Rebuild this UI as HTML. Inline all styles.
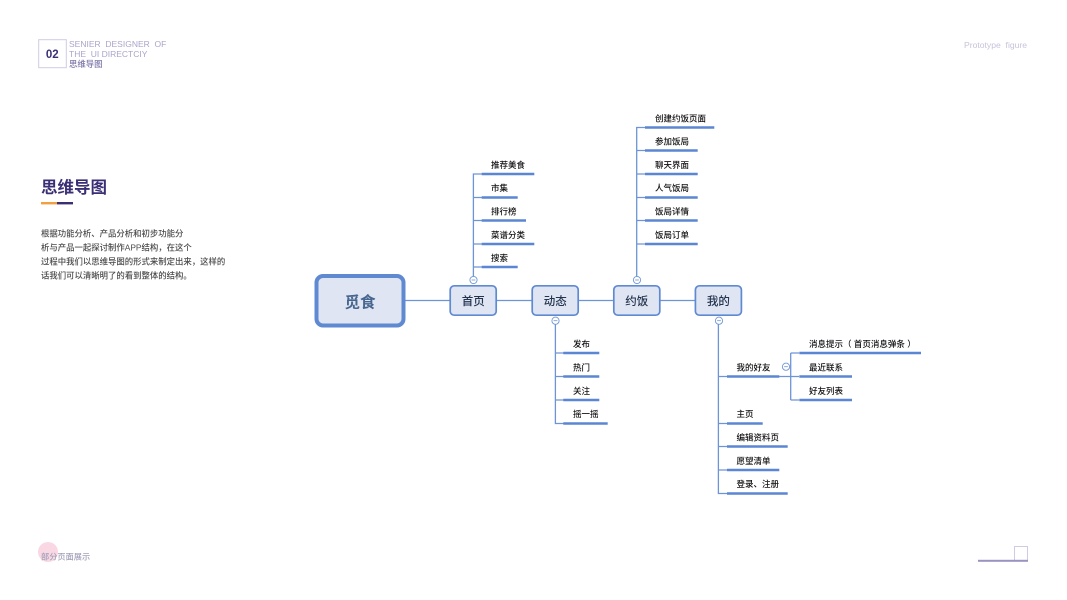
<!DOCTYPE html>
<html lang="zh">
<head>
<meta charset="utf-8">
<title>思维导图</title>
<style>
html,body{margin:0;padding:0;background:#fff;width:1067px;height:600px;overflow:hidden}
svg{display:block}
text{font-family:"Liberation Sans","Noto Sans CJK SC",sans-serif}
.l{font-size:8.5px;fill:#111;font-weight:500}
.n{font-size:11.5px;fill:#24344f;text-anchor:middle;font-weight:500}
.p{font-size:8.4px;fill:#4a4a4a;font-weight:500}
.h{font-size:8.5px;fill:#aaa5ca}
.c{fill:none;stroke:#6d94d6;stroke-width:1.3}
.u{stroke:#5b86d4;stroke-width:2.5}
.box{fill:#dfe5f2;stroke:#5f8ad2;stroke-width:1.7}
.o{fill:#fff;stroke:#7096d6;stroke-width:.9}
.m{stroke:#7096d6;stroke-width:.8}
</style>
</head>
<body>
<svg width="1067" height="600" viewBox="0 0 1067 600" xmlns="http://www.w3.org/2000/svg">
<rect x="38.7" y="39.7" width="27.6" height="28" fill="#fff" stroke="#cfcce2" stroke-width="1"/>
<text x="52.3" y="58" font-size="11.5" font-weight="700" fill="#3a2f75" text-anchor="middle">02</text>
<text class="h" x="69" y="47" xml:space="preserve">SENIER  DESIGNER  OF</text>
<text class="h" x="69" y="57" xml:space="preserve">THE  UI DIRECTCIY</text>
<text x="69" y="67" font-size="8.4" font-weight="500" fill="#7d77a8">思维导图</text>
<text x="964" y="48" font-size="8.6" fill="#c6c3da" xml:space="preserve">Prototype  figure</text>

<text x="41" y="193" font-size="16.5" font-weight="700" fill="#3a2f75">思维导图</text>
<rect x="41" y="202" width="16" height="2.4" fill="#f0a040"/>
<rect x="57" y="202" width="16" height="2.4" fill="#3a2f75"/>
<text class="p" x="41" y="236.5">根据功能分析、产品分析和初步功能分</text>
<text class="p" x="41" y="250.5">析与产品一起探讨制作APP结构，在这个</text>
<text class="p" x="41" y="264.5">过程中我们以思维导图的形式来制定出来，这样的</text>
<text class="p" x="41" y="278.5">话我们可以清晰明了的看到整体的结构。</text>

<circle cx="48" cy="552" r="10" fill="#f9d8e4"/>
<text x="41" y="559.5" font-size="8.2" font-weight="500" fill="#a3a0b8">部分页面展示</text>
<rect x="1014.5" y="546.5" width="13" height="14" fill="#fff" stroke="#cfcce2" stroke-width="1"/>
<rect x="978" y="559.8" width="50" height="2" fill="#9a92c0"/>

<!-- main connectors -->
<path class="c" d="M405 300.5H450M497 300.5H532M579 300.5H614M660 300.5H695"/>
<!-- 首页 branch -->
<path class="c" d="M473.4 277V174H482M473.4 197.5H482M473.4 220.5H482M473.4 244H482M473.4 267H482"/>
<!-- 约饭 branch -->
<path class="c" d="M636.7 277V127.5H645M636.7 150.5H645M636.7 174H645M636.7 197.5H645M636.7 220.5H645M636.7 244H645"/>
<!-- 动态 branch -->
<path class="c" d="M555.4 324V423.5H564M555.4 353H564M555.4 376.5H564M555.4 400H564"/>
<!-- 我的 branch -->
<path class="c" d="M718.4 324V493.5H727M718.4 376.5H727M718.4 423.5H727M718.4 446.5H727M718.4 470H727"/>
<path class="c" d="M779 376.5H799M790.7 353V400M790.7 353H799M790.7 400H799"/>

<!-- underlines -->
<path class="u" d="M481.7 174H534.3M481.7 197.5H517.7M481.7 220.5H526M481.7 244H534.3M481.7 267H517.7"/>
<path class="u" d="M645 127.5H714.3M645 150.5H697.7M645 174H697.7M645 197.5H697.7M645 220.5H697.7M645 244H697.7"/>
<path class="u" d="M563.3 353H599.3M563.3 376.5H599.3M563.3 400H599.3M563.3 423.5H607.7"/>
<path class="u" d="M727 376.5H779.3M727 423.5H762.7M727 446.5H787.7M727 470H779.3M727 493.5H787.7"/>
<path class="u" d="M799.3 353H921M799.3 376.5H852M799.3 400H852"/>

<!-- nodes -->
<rect x="316.5" y="276" width="87" height="49.5" rx="6.5" fill="#dfe5f2" stroke="#5f8ad2" stroke-width="4"/>
<text x="360" y="307.5" font-size="15.5" font-weight="700" fill="#46658f" text-anchor="middle">觅食</text>
<rect class="box" x="450.2" y="285.8" width="46" height="29.4" rx="4"/>
<text class="n" x="473.3" y="305">首页</text>
<rect class="box" x="532.2" y="285.8" width="46" height="29.4" rx="4"/>
<text class="n" x="555.3" y="305">动态</text>
<rect class="box" x="613.8" y="285.8" width="46" height="29.4" rx="4"/>
<text class="n" x="636.8" y="305">约饭</text>
<rect class="box" x="695.4" y="285.8" width="46" height="29.4" rx="4"/>
<text class="n" x="718.4" y="305">我的</text>

<!-- collapse markers -->
<circle class="o" cx="473.5" cy="280" r="3.6"/><path class="m" d="M471.6 280H475.4"/>
<circle class="o" cx="555.5" cy="320.7" r="3.6"/><path class="m" d="M553.6 320.7H557.4"/>
<circle class="o" cx="637" cy="280" r="3.6"/><path class="m" d="M635.1 280H638.9"/>
<circle class="o" cx="719" cy="320.7" r="3.6"/><path class="m" d="M717.1 320.7H720.9"/>
<circle class="o" cx="786" cy="366.7" r="3.6"/><path class="m" d="M784.1 366.7H787.9"/>

<!-- labels -->
<text class="l" x="491" y="168">推荐美食</text>
<text class="l" x="491" y="191">市集</text>
<text class="l" x="491" y="214.5">排行榜</text>
<text class="l" x="491" y="238">菜谱分类</text>
<text class="l" x="491" y="261">搜索</text>

<text class="l" x="655" y="121.5">创建约饭页面</text>
<text class="l" x="655" y="144.5">参加饭局</text>
<text class="l" x="655" y="168">聊天界面</text>
<text class="l" x="655" y="191">人气饭局</text>
<text class="l" x="655" y="214.5">饭局详情</text>
<text class="l" x="655" y="238">饭局订单</text>

<text class="l" x="573" y="347">发布</text>
<text class="l" x="573" y="370.5">热门</text>
<text class="l" x="573" y="394">关注</text>
<text class="l" x="573" y="417">摇一摇</text>

<text class="l" x="736.5" y="370.5">我的好友</text>
<text class="l" x="736.5" y="417">主页</text>
<text class="l" x="736.5" y="440.5">编辑资料页</text>
<text class="l" x="736.5" y="464">愿望清单</text>
<text class="l" x="736.5" y="487">登录、注册</text>

<text class="l" x="809" y="347" xml:space="preserve">消息提示（ 首页消息弹条 ）</text>
<text class="l" x="809" y="370.5">最近联系</text>
<text class="l" x="809" y="394">好友列表</text>
</svg>
</body>
</html>
